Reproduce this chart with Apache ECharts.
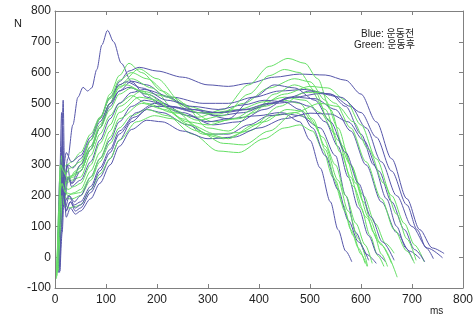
<!DOCTYPE html>
<html>
<head>
<meta charset="utf-8">
<script src="https://cdn.jsdelivr.net/npm/echarts@6/dist/echarts.min.js"></script>
<style>html,body{margin:0;padding:0;background:#fff;}#c{width:476px;height:320px;}</style>
</head>
<body>
<div id="c"></div>
<script>
const xTicks = [0,100,200,300,400,500,600,700,800];
const yTicks = [-100,0,100,200,300,400,500,600,700,800];
const legendLines = ['Blue: 운동전', 'Green: 운동후'];

const blueCurves = [
  [[4,-40],[8,120],[12,280],[17,220],[25,320],[35,430],[45,520],[55,552],[64,540],[72,550],[82,610],[92,690],[103,737],[115,700],[130,630],[150,570],[180,520],[220,490],[280,470],[340,450],[400,460],[440,470],[480,460],[520,420],[550,330],[570,200],[590,80],[610,10],[630,-20]],
  [[6,-30],[10,200],[14,360],[18,190],[24,260],[32,240],[50,300],[70,360],[88,420],[108,500],[126,570],[145,605],[165,617],[200,605],[250,585],[300,560],[340,555],[380,565],[430,585],[480,595],[530,592],[570,575],[600,530],[630,440],[660,320],[690,190],[715,90],[740,30],[763,12]],
  [[8,-20],[12,250],[16,510],[19,250],[24,300],[32,230],[50,250],[70,310],[88,380],[108,450],[126,500],[150,535],[175,545],[230,520],[290,500],[340,500],[390,520],[440,540],[490,545],[540,530],[580,490],[610,420],[640,310],[670,200],[700,100],[730,30],[760,-2]],
  [[7,-50],[12,150],[16,330],[20,200],[26,260],[34,240],[50,280],[70,350],[88,420],[108,490],[126,540],[150,572],[180,560],[220,520],[270,480],[320,460],[370,470],[420,500],[470,520],[510,515],[550,480],[580,410],[610,300],[640,180],[670,80],[695,20],[716,-5]],
  [[9,-30],[13,120],[17,230],[22,150],[30,180],[40,150],[50,160],[70,210],[88,260],[108,320],[126,380],[150,440],[180,480],[210,470],[260,430],[300,400],[340,400],[380,430],[420,460],[450,465],[480,440],[500,380],[520,290],[540,180],[555,90],[570,20],[582,-15]],
  [[6,-10],[11,200],[15,420],[18,240],[25,300],[35,290],[50,320],[70,380],[88,440],[108,500],[126,540],[145,552],[180,530],[230,490],[280,470],[330,470],[380,480],[430,500],[470,505],[500,490],[530,440],[555,360],[575,260],[595,160],[615,70],[632,10],[648,-15]],
  [[8,-40],[12,100],[16,260],[20,160],[28,200],[38,180],[50,200],[70,260],[88,320],[108,380],[126,440],[150,490],[175,510],[210,500],[260,460],[310,430],[360,440],[410,480],[460,520],[500,540],[540,530],[570,490],[600,400],[625,300],[650,190],[670,100],[688,30],[702,-10]],
  [[10,-45],[14,80],[18,200],[22,130],[30,160],[40,140],[50,150],[70,190],[88,240],[108,300],[126,360],[150,415],[180,445],[210,440],[250,410],[300,385],[350,390],[400,420],[450,450],[500,468],[540,465],[575,440],[605,380],[635,280],[660,180],[685,90],[705,25],[725,-15]],
  [[5,-20],[9,250],[13,470],[16,280],[22,340],[32,310],[50,330],[70,390],[88,450],[108,520],[126,560],[140,570],[170,550],[220,510],[270,490],[320,480],[370,495],[410,510],[450,505],[480,480],[505,420],[530,330],[555,220],[575,120],[595,50],[615,-10]],
  [[7,-35],[11,130],[15,300],[19,180],[27,200],[38,170],[50,180],[70,230],[88,290],[108,350],[126,410],[160,470],[195,500],[250,470],[300,440],[340,450],[390,520],[430,560],[470,550],[510,510],[540,440],[570,340],[595,240],[620,130],[642,50],[665,-10]],
  [[9,-50],[13,90],[17,240],[21,150],[30,180],[40,160],[50,170],[70,220],[88,280],[108,340],[126,400],[155,455],[190,490],[220,490],[270,480],[320,470],[370,480],[420,500],[470,520],[520,532],[560,520],[600,470],[630,390],[660,280],[690,170],[710,90],[728,30],[742,-5]]
];

const greenCurves = [
  [[3,-70],[7,50],[10,220],[14,300],[20,240],[30,260],[40,280],[50,300],[70,380],[88,450],[108,530],[126,590],[145,630],[170,600],[210,540],[260,480],[310,440],[360,450],[410,490],[450,510],[480,500],[505,450],[530,360],[555,250],[575,150],[595,60],[613,-29]],
  [[4,-50],[8,80],[11,240],[15,300],[22,240],[32,250],[50,260],[70,330],[88,400],[108,460],[126,500],[150,525],[180,500],[230,470],[280,455],[330,480],[380,560],[420,620],[457,646],[490,630],[515,580],[540,480],[565,360],[590,240],[615,130],[640,40],[671,-65]],
  [[5,-40],[9,120],[12,260],[16,300],[24,250],[35,260],[50,280],[70,350],[88,420],[108,500],[126,560],[165,612],[200,580],[250,500],[300,420],[340,410],[390,470],[430,530],[470,560],[500,545],[530,480],[555,380],[580,260],[600,160],[618,70],[633,5],[645,-30]],
  [[3,-60],[7,100],[10,240],[14,280],[20,240],[30,260],[50,290],[70,360],[88,430],[108,500],[126,550],[150,580],[190,550],[240,470],[290,400],[330,385],[380,410],[430,460],[470,470],[500,450],[525,390],[550,300],[570,200],[590,110],[608,40],[622,-20]],
  [[6,-30],[10,150],[13,280],[17,250],[25,220],[38,230],[50,240],[70,300],[88,370],[108,430],[126,490],[170,540],[210,525],[260,490],[310,470],[360,480],[410,505],[450,520],[490,510],[520,470],[550,400],[580,300],[605,200],[628,110],[648,45],[665,13]],
  [[4,-50],[8,100],[11,200],[15,230],[22,190],[34,190],[50,200],[70,250],[88,310],[108,370],[126,420],[150,460],[180,480],[220,460],[270,400],[320,345],[360,340],[410,385],[450,420],[480,430],[505,410],[525,350],[545,260],[565,170],[580,90],[595,30],[608,-20]],
  [[5,-40],[8,180],[12,330],[16,290],[23,300],[33,310],[50,340],[70,400],[88,455],[108,515],[126,555],[140,560],[170,540],[210,490],[260,440],[300,430],[350,450],[400,490],[450,530],[500,555],[535,550],[570,510],[600,430],[630,320],[660,200],[685,110],[705,40],[724,-15]],
  [[6,-45],[10,120],[13,240],[17,230],[25,200],[38,210],[50,220],[70,280],[88,340],[108,410],[126,470],[165,520],[200,510],[250,450],[300,400],[340,385],[390,430],[440,490],[490,535],[520,535],[550,500],[580,420],[610,310],[640,190],[665,90],[690,20],[705,-20]],
  [[4,-60],[7,150],[10,300],[14,290],[20,270],[30,290],[50,310],[70,380],[88,450],[108,520],[126,575],[150,600],[180,580],[230,520],[280,470],[320,465],[370,500],[420,550],[470,580],[500,570],[530,510],[555,420],[580,300],[605,180],[625,80],[640,10],[652,-30]],
  [[7,-40],[11,100],[14,200],[18,170],[27,160],[40,165],[50,170],[70,220],[88,270],[108,320],[126,380],[160,440],[195,460],[230,450],[280,410],[330,370],[370,365],[420,410],[470,470],[520,500],[555,490],[585,440],[615,350],[645,240],[670,140],[690,60],[708,-10]],
  [[5,-35],[9,160],[12,300],[16,280],[23,260],[34,265],[50,280],[70,350],[88,420],[108,480],[126,530],[150,550],[180,530],[230,480],[280,445],[330,460],[380,530],[420,590],[450,610],[480,600],[510,540],[535,450],[560,340],[585,230],[610,130],[635,50],[660,-20]],
  [[3,-50],[7,80],[10,220],[14,240],[20,210],[32,205],[50,210],[70,260],[88,320],[108,390],[126,450],[170,500],[215,480],[265,430],[315,400],[360,405],[410,440],[455,480],[485,475],[510,430],[530,350],[550,250],[568,150],[585,70],[600,10],[612,-30]]
];

const BLUE = '#5656aa';
const GREEN = '#66e066';
const FONT = '"Liberation Sans", Arial, sans-serif';

function mk(data, color) {
  return {
    type: 'line', data: data, showSymbol: false, smooth: 0.3, smoothMonotone: 'x',
    lineStyle: { color: color, width: 1 }, silent: true, animation: false
  };
}

const series = [];
const n = Math.max(blueCurves.length, greenCurves.length);
for (let i = 0; i < n; i++) {
  if (blueCurves[i]) series.push(mk(blueCurves[i], BLUE));
  if (greenCurves[i]) series.push(mk(greenCurves[i], GREEN));
}
const axisLine = { show: true, onZero: false, lineStyle: { color: '#808080', width: 1 } };
const tick = { show: true, inside: true, length: 4, lineStyle: { color: '#808080' } };
const lbl = { color: '#222', fontSize: 12, fontFamily: FONT };

const chart = echarts.init(document.getElementById('c'), null, { renderer: 'canvas' });
chart.setOption({
  animation: false,
  backgroundColor: '#fff',
  grid: { left: 55, right: 10, top: 11, bottom: 32 },
  xAxis: [
    { type: 'value', min: xTicks[0], max: xTicks[xTicks.length-1], interval: 100, position: 'bottom',
      axisLine: axisLine, axisTick: tick, splitLine: { show: false },
      axisLabel: Object.assign({ margin: 6 }, lbl) },
    { type: 'value', min: xTicks[0], max: xTicks[xTicks.length-1], interval: 100, position: 'top',
      axisLine: axisLine, axisTick: tick, splitLine: { show: false }, axisLabel: { show: false } }
  ],
  yAxis: [
    { type: 'value', min: yTicks[0], max: yTicks[yTicks.length-1], interval: 100, position: 'left',
      axisLine: axisLine, axisTick: tick, splitLine: { show: false },
      axisLabel: Object.assign({ margin: 4 }, lbl) },
    { type: 'value', min: yTicks[0], max: yTicks[yTicks.length-1], interval: 100, position: 'right',
      axisLine: axisLine, axisTick: tick, splitLine: { show: false }, axisLabel: { show: false } }
  ],
  series: series,
  graphic: [
    { type: 'text', left: 14, top: 18, style: { text: 'N', fill: '#222', font: '11px ' + FONT } },
    { type: 'text', left: 430, top: 306, style: { text: 'ms', fill: '#222', font: '10px ' + FONT } },
    { type: 'text', left: 361, top: 29, style: { text: legendLines[0], fill: '#222', font: '10px "Liberation Sans", "Noto Sans CJK KR", sans-serif' } },
    { type: 'text', left: 354, top: 40, style: { text: legendLines[1], fill: '#222', font: '10px "Liberation Sans", "Noto Sans CJK KR", sans-serif' } }
  ]
});
</script>
</body>
</html>
